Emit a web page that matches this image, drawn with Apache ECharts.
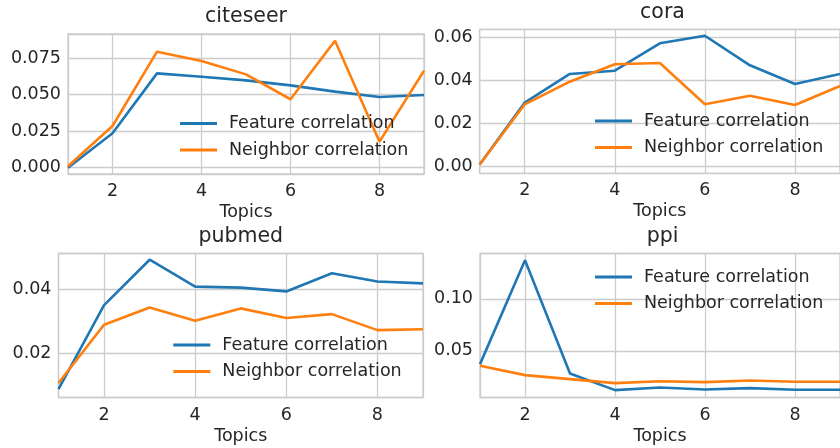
<!DOCTYPE html>
<html>
<head>
<meta charset="utf-8">
<script src="https://cdn.jsdelivr.net/npm/echarts@6/dist/echarts.min.js"></script>
<style>html,body{margin:0;padding:0;background:#fff;}#c{width:840px;height:448px;}</style>
</head>
<body>
<div id="c"></div>
<script>
const topics = [1, 2, 3, 4, 5, 6, 7, 8, 9];
const seriesNames = ['Feature correlation', 'Neighbor correlation'];
const titles = ['citeseer', 'cora', 'pubmed', 'ppi'];
const xTickLabels = [2, 4, 6, 8];

const citeseerFeature  = [0.000, 0.0235, 0.0645, 0.0622, 0.0597, 0.0563, 0.0520, 0.0483, 0.0497];
const citeseerNeighbor = [0.001, 0.0285, 0.0793, 0.0730, 0.0638, 0.0468, 0.0868, 0.0178, 0.0663];
const coraFeature      = [0.001, 0.0297, 0.0430, 0.0445, 0.0572, 0.0607, 0.0470, 0.0383, 0.0430];
const coraNeighbor     = [0.001, 0.0289, 0.0394, 0.0475, 0.0481, 0.0289, 0.0329, 0.0286, 0.0374];
const pubmedFeature    = [0.0089, 0.0351, 0.0493, 0.0409, 0.0406, 0.0394, 0.0451, 0.0425, 0.0419];
const pubmedNeighbor   = [0.0108, 0.0290, 0.0344, 0.0302, 0.0341, 0.0311, 0.0323, 0.0273, 0.0276];
const ppiFeature       = [0.0372, 0.1372, 0.0282, 0.0122, 0.0147, 0.0128, 0.0141, 0.0125, 0.0125];
const ppiNeighbor      = [0.0356, 0.0266, 0.0228, 0.0189, 0.0208, 0.0199, 0.0215, 0.0202, 0.0202];

const yTicksCiteseer = [0.000, 0.025, 0.050, 0.075];
const yTicksCora = [0.00, 0.02, 0.04, 0.06];
const yTicksPubmed = [0.02, 0.04];
const yTicksPpi = [0.05, 0.10];

const panels = [
  {feat: citeseerFeature, neigh: citeseerNeighbor, ticks: yTicksCiteseer, dec: 3, ymin: -0.0043, ymax: 0.0914,
   grid: {left: 68, top: 34, width: 356, height: 140}, legend: {left: 180, top: 114.6}, titleY: 17.5},
  {feat: coraFeature, neigh: coraNeighbor, ticks: yTicksCora, dec: 2, ymin: -0.0031, ymax: 0.0637,
   grid: {left: 479.7, top: 29.3, width: 365.6, height: 144}, legend: {left: 595, top: 112.0}, titleY: 13.3},
  {feat: pubmedFeature, neigh: pubmedNeighbor, ticks: yTicksPubmed, dec: 2, ymin: 0.00625, ymax: 0.05125,
   grid: {left: 58.5, top: 253.5, width: 364.5, height: 144}, legend: {left: 173.3, top: 336.0}, titleY: 237.5},
  {feat: ppiFeature, neigh: ppiNeighbor, ticks: yTicksPpi, dec: 2, ymin: 0.0051, ymax: 0.1436,
   grid: {left: 480, top: 253.5, width: 365.3, height: 144}, legend: {left: 595, top: 268.0}, titleY: 237.5}
];

const FONT = 'DejaVu Sans';
const TXT = '#262626';
const GRIDC = '#cccccc';
const BLUE = '#1f77b4';
const ORANGE = '#ff7f0e';
const FS = 17.5;

const option = {
  animation: false,
  backgroundColor: '#ffffff',
  textStyle: {fontFamily: FONT, color: TXT},
  title: [], grid: [], xAxis: [], yAxis: [], series: [], legend: []
};

panels.forEach((p, i) => {
  option.grid.push(Object.assign({show: true, borderColor: GRIDC, borderWidth: 1.3, backgroundColor: 'transparent'}, p.grid));
  option.title.push({
    text: titles[i],
    left: p.grid.left + p.grid.width / 2,
    top: p.titleY - 11,
    textAlign: 'center',
    padding: 0,
    textStyle: {fontFamily: FONT, fontSize: 20.5, fontWeight: 'normal', color: TXT}
  });
  const step = p.ticks[1] - p.ticks[0];
  option.xAxis.push({
    type: 'value', gridIndex: i, min: topics[0], max: topics[topics.length - 1],
    minInterval: xTickLabels[1] - xTickLabels[0], maxInterval: xTickLabels[1] - xTickLabels[0],
    name: 'Topics', nameLocation: 'middle', nameGap: 29.5,
    nameTextStyle: {fontFamily: FONT, fontSize: FS, color: TXT},
    axisLine: {show: false}, axisTick: {show: false},
    axisLabel: {show: true, showMinLabel: false, showMaxLabel: false, margin: 8.5,
      fontFamily: FONT, fontSize: FS, color: TXT,
      formatter: v => (xTickLabels.indexOf(Math.round(v)) >= 0 && Math.abs(v - Math.round(v)) < 1e-9) ? String(Math.round(v)) : ''},
    splitLine: {show: true, lineStyle: {color: GRIDC, width: 1.3}}
  });
  option.yAxis.push({
    type: 'value', gridIndex: i, min: p.ymin, max: p.ymax,
    minInterval: step, maxInterval: step,
    axisLine: {show: false}, axisTick: {show: false},
    axisLabel: {show: true, showMinLabel: false, showMaxLabel: false, margin: 7,
      fontFamily: FONT, fontSize: FS, color: TXT,
      formatter: v => {
        const ok = p.ticks.some(t => Math.abs(t - v) < 1e-9);
        return ok ? v.toFixed(p.dec) : '';
      }},
    splitLine: {show: true, lineStyle: {color: GRIDC, width: 1.3}}
  });
  [[p.feat, seriesNames[0], BLUE], [p.neigh, seriesNames[1], ORANGE]].forEach(([vals, name, col]) => {
    option.series.push({
      type: 'line', name: name, xAxisIndex: i, yAxisIndex: i,
      data: topics.map((t, k) => [t, vals[k]]),
      symbol: 'none', showSymbol: false, clip: true,
      lineStyle: {color: col, width: 2.6},
      itemStyle: {color: col},
      emphasis: {disabled: true}
    });
  });
  option.legend.push({
    orient: 'vertical', left: p.legend.left, top: p.legend.top, padding: 0,
    itemWidth: 37, itemHeight: 3, itemGap: 8.5, icon: 'rect',
    data: seriesNames,
    selectedMode: false,
    textStyle: {fontFamily: FONT, fontSize: FS, color: TXT, padding: [0, 0, 0, 7]}
  });
});

const chart = echarts.init(document.getElementById('c'), null, {renderer: 'canvas'});
chart.setOption(option);
</script>
</body>
</html>
